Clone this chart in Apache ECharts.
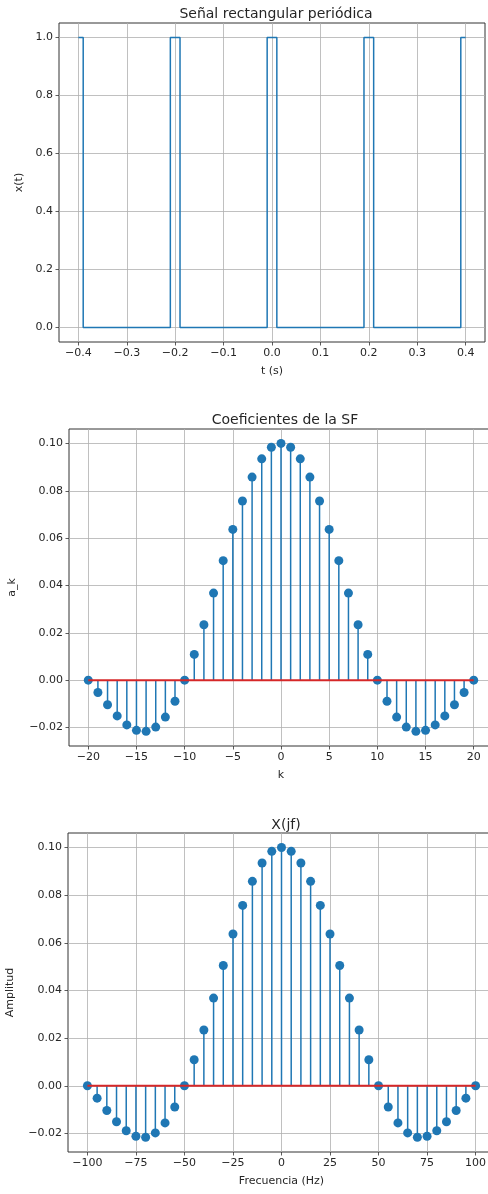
<!DOCTYPE html>
<html>
<head>
<meta charset="utf-8">
<title>Señal rectangular periódica</title>
<script src="https://cdn.jsdelivr.net/npm/echarts@6/dist/echarts.min.js"></script>
<style>
	html, body { margin: 0; padding: 0; background: #ffffff; }
	.r_chart { width: 488px; height: 1194px; }
</style>
</head>
<body>
<div class="r_chart"></div>
<script>
/**
 * Señal rectangular, coeficientes SF y X(jf)
 * */

// señal x(t): instantes de cambio y nivel que se mantiene desde cada instante
var tEdges = [-0.4, -0.39, -0.21, -0.19, -0.01, 0.01, 0.19, 0.21, 0.39, 0.4];
var xLevels = [1, 0, 1, 0, 1, 0, 1, 0, 1, 1];

// coeficientes a_k
var kIdx = [-20, -19, -18, -17, -16, -15, -14, -13, -12, -11, -10, -9, -8, -7, -6, -5, -4, -3, -2, -1,
	0, 1, 2, 3, 4, 5, 6, 7, 8, 9, 10, 11, 12, 13, 14, 15, 16, 17, 18, 19, 20];
var ak = [0, -0.0052, -0.0104, -0.0151, -0.0189, -0.0212, -0.0216, -0.0198, -0.0156, -0.0089, 0,
	0.0109, 0.0234, 0.0368, 0.0505, 0.0637, 0.0757, 0.0858, 0.0935, 0.0984, 0.1,
	0.0984, 0.0935, 0.0858, 0.0757, 0.0637, 0.0505, 0.0368, 0.0234, 0.0109, 0,
	-0.0089, -0.0156, -0.0198, -0.0216, -0.0212, -0.0189, -0.0151, -0.0104, -0.0052, 0];

// espectro X(jf)
var freqHz = [-100, -95, -90, -85, -80, -75, -70, -65, -60, -55, -50, -45, -40, -35, -30, -25, -20, -15, -10, -5,
	0, 5, 10, 15, 20, 25, 30, 35, 40, 45, 50, 55, 60, 65, 70, 75, 80, 85, 90, 95, 100];
var xjf = [0, -0.0052, -0.0104, -0.0151, -0.0189, -0.0212, -0.0216, -0.0198, -0.0156, -0.0089, 0,
	0.0109, 0.0234, 0.0368, 0.0505, 0.0637, 0.0757, 0.0858, 0.0935, 0.0984, 0.1,
	0.0984, 0.0935, 0.0858, 0.0757, 0.0637, 0.0505, 0.0368, 0.0234, 0.0109, 0,
	-0.0089, -0.0156, -0.0198, -0.0216, -0.0212, -0.0189, -0.0151, -0.0104, -0.0052, 0];

// marcas de los ejes
var tTicks = [-0.4, -0.3, -0.2, -0.1, 0, 0.1, 0.2, 0.3, 0.4];
var xTicks = [0, 0.2, 0.4, 0.6, 0.8, 1.0];
var kTicks = [-20, -15, -10, -5, 0, 5, 10, 15, 20];
var fTicks = [-100, -75, -50, -25, 0, 25, 50, 75, 100];
var aTicks = [-0.02, 0, 0.02, 0.04, 0.06, 0.08, 0.10];

var titles = ['Señal rectangular periódica', 'Coeficientes de la SF', 'X(jf)'];

var color = {
	blue: '#1f77b4',
	red: '#d62728',
	grid: '#b0b0b0',
	spine: '#333333',
	text: '#262626'
};
var font = 'DejaVu Sans';

/**
 * utilidades
 * */
var util = {
	//formato con signo menos tipográfico
	fmt(d) {
		return function(v) {
			var s = Number(v).toFixed(d);
			if (Number(s) === 0) s = (0).toFixed(d);
			return s.replace('-', '\u2212');
		};
	},
	pairs(xs, ys) {
		return xs.map(function(x, i) { return [x, ys[i]]; });
	},
	axis(gridIndex, min, max, ticks, dec, name, gap) {
		return {
			type: 'value', gridIndex: gridIndex, min: min, max: max,
			name: name, nameLocation: 'middle', nameGap: gap,
			nameTextStyle: { fontSize: 11, color: color.text, fontFamily: font },
			axisLine: { show: false, onZero: false },
			axisTick: { show: true, length: 3.5, customValues: ticks, lineStyle: { color: color.spine, width: 0.8 } },
			axisLabel: { customValues: ticks, formatter: util.fmt(dec), fontSize: 11, margin: 6, color: color.text, fontFamily: font },
			splitLine: { show: true, lineStyle: { color: color.grid, width: 0.8 } }
		};
	},
	//gráfico de tallos: tallos (barras finas), marcadores y línea base
	stem(idx, xs, ys) {
		var data = util.pairs(xs, ys);
		return [{
			type: 'bar', xAxisIndex: idx, yAxisIndex: idx, data: data,
			barWidth: 1.5, itemStyle: { color: color.blue }, z: 2, silent: true
		}, {
			type: 'scatter', xAxisIndex: idx, yAxisIndex: idx, data: data,
			symbolSize: 9, itemStyle: { color: color.blue, opacity: 1 }, z: 3, silent: true
		}, {
			type: 'line', xAxisIndex: idx, yAxisIndex: idx,
			data: [[xs[0], 0], [xs[xs.length - 1], 0]],
			showSymbol: false, lineStyle: { color: color.red, width: 2 }, z: 4, silent: true
		}];
	}
};

var dom = {
	el: document.querySelector('.r_chart')
};

var render = {
	myChart: echarts.init(dom.el, null, { renderer: 'canvas' })
};

var gridBox = {
	show: true, borderColor: color.spine, borderWidth: 1, backgroundColor: 'transparent',
	containLabel: false, outerBoundsMode: 'none'
};

var option = {
	animation: false,
	backgroundColor: '#ffffff',
	title: [
		{ text: titles[0], left: 271, top: 2, textAlign: 'center' },
		{ text: titles[1], left: 280, top: 408, textAlign: 'center' },
		{ text: titles[2], left: 281, top: 813, textAlign: 'center' }
	].map(function(t) {
		t.textStyle = { fontSize: 14, fontWeight: 'normal', color: color.text, fontFamily: font };
		return t;
	}),
	grid: [
		Object.assign({ left: 59, top: 23, width: 426, height: 319 }, gridBox),
		Object.assign({ left: 69, top: 429, width: 424, height: 317 }, gridBox),
		Object.assign({ left: 68, top: 833, width: 427, height: 319 }, gridBox)
	],
	xAxis: [
		util.axis(0, -0.44, 0.44, tTicks, 1, 't (s)', 24),
		util.axis(1, -22, 22, kTicks, 0, 'k', 24),
		util.axis(2, -110, 110, fTicks, 0, 'Frecuencia (Hz)', 24)
	],
	yAxis: [
		util.axis(0, -0.05, 1.05, xTicks, 1, 'x(t)', 33),
		util.axis(1, -0.0278, 0.1061, aTicks, 2, 'a_k', 51),
		util.axis(2, -0.0278, 0.1061, aTicks, 2, 'Amplitud', 52)
	],
	series: [{
		type: 'line', xAxisIndex: 0, yAxisIndex: 0,
		data: util.pairs(tEdges, xLevels),
		step: 'end', showSymbol: false,
		lineStyle: { color: color.blue, width: 1.5 }, silent: true
	}].concat(util.stem(1, kIdx, ak), util.stem(2, freqHz, xjf))
};

render.myChart.setOption(option);
</script>
</body>
</html>
